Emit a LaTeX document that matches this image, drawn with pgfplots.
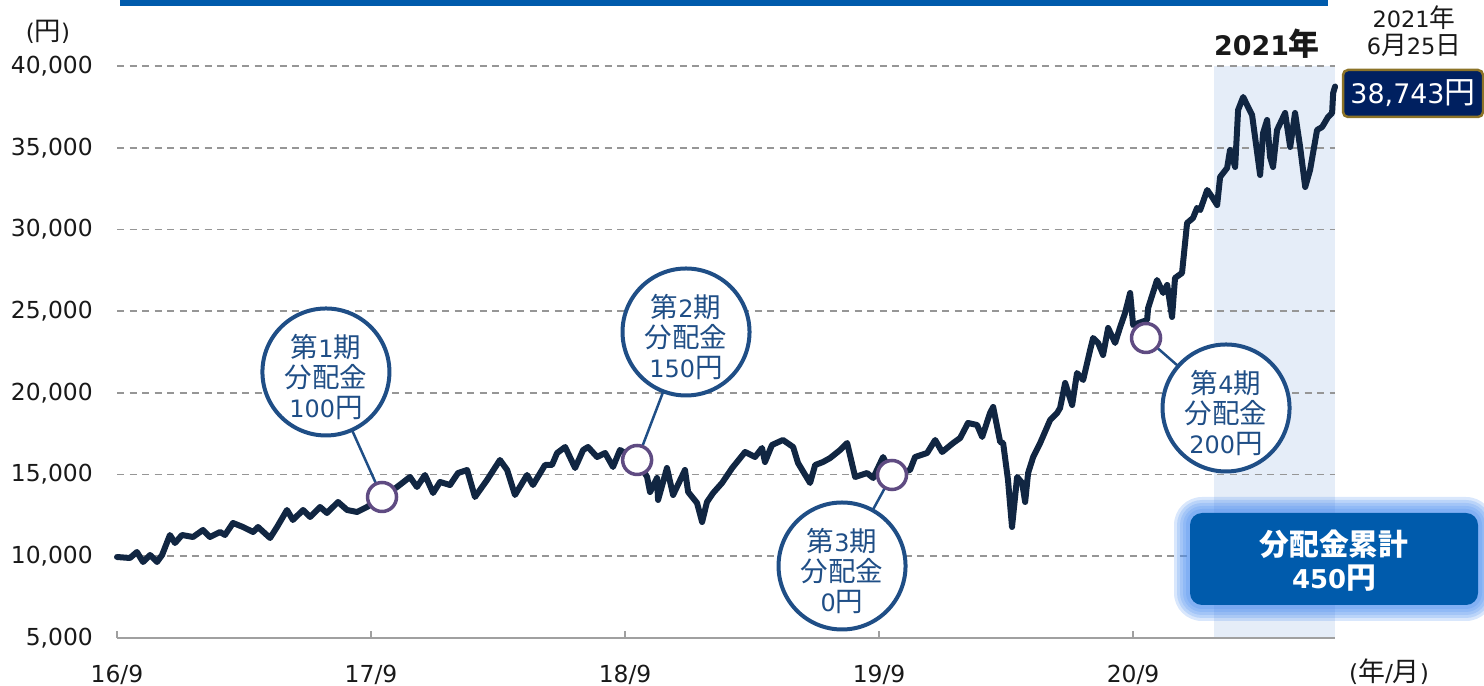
\documentclass[border=0pt]{standalone}
\usepackage{fontspec}
\setmainfont{DejaVu Sans}
\newfontfamily\cjk[Scale=1.15]{Noto Sans CJK JP}
\usepackage{pgfplots}
\pgfplotsset{compat=1.18}
\newcommand\J[1]{{\cjk #1}}
\definecolor{linec}{RGB}{17,38,66}
\definecolor{callc}{RGB}{31,78,134}
\definecolor{markc}{RGB}{95,75,130}
\definecolor{shadec}{RGB}{229,237,248}
\definecolor{gridc}{RGB}{150,150,150}
\definecolor{axisc}{RGB}{160,160,160}
\definecolor{topbar}{RGB}{0,91,172}
\definecolor{boxa}{RGB}{0,32,96}
\definecolor{boxab}{RGB}{140,115,40}
\definecolor{boxb}{RGB}{0,91,172}
\definecolor{glowc}{RGB}{80,145,240}
\definecolor{txt}{RGB}{25,25,25}
\begin{document}
\begin{tikzpicture}[x=1bp,y=1bp]
\fill[topbar] (3,632.3) rectangle (1211,640);
\begin{axis}[
 set layers,
 at={(0,0)}, anchor=south west,
 scale only axis, width=1218bp, height=572bp,
 xmin=0, xmax=57.54, ymin=5000, ymax=40000,
 clip=false,
 axis x line=bottom, axis y line=left,
 x axis line style={draw=axisc, line width=1.6bp, -},
 y axis line style={draw=none},
 xtick={0,12,24,36,48}, xticklabels={16/9,17/9,18/9,19/9,20/9},
 ytick={10000,15000,...,40000},
 extra y ticks={5000}, extra y tick style={grid=none},
 tick align=inside,
 major tick length=7bp,
 xtick style={draw=axisc, line width=1.6bp},
 ytick style={draw=none},
 ymajorgrids, grid style={gridc, line width=1.8bp, dash pattern=on 7bp off 5.5bp},
 scaled y ticks=false,
 /pgf/number format/assume math mode=true,
 /pgf/number format/1000 sep={,},
 tick label style={font=\fontsize{23.5}{27}\selectfont, text=txt},
 yticklabel style={inner sep=0pt, anchor=east, xshift=-24bp},
 xticklabel style={inner sep=0pt, anchor=north, yshift=-26.5bp},
]
\begin{pgfonlayer}{axis background}
\fill[shadec] (axis cs:51.8,5000) rectangle (axis cs:57.54,40000);
\end{pgfonlayer}
\addplot[linec, line width=6bp, line join=round, line cap=round] table[row sep=\\] {
x y\\
0 9956\\ 0.61 9895\\ 0.94 10262\\ 1.23 9650\\ 1.56 10079\\ 1.89 9650\\ 2.13 10079\\ 2.50 11303\\
2.74 10813\\ 3.07 11303\\ 3.59 11180\\ 4.06 11609\\ 4.39 11180\\ 4.87 11486\\ 5.10 11303\\ 5.48 12037\\
5.95 11792\\ 6.43 11486\\ 6.66 11792\\ 7.23 11119\\ 7.56 11792\\ 8.03 12832\\ 8.31 12220\\ 8.79 12832\\
9.12 12404\\ 9.59 13016\\ 9.92 12649\\ 10.44 13322\\ 10.87 12832\\ 11.34 12710\\ 11.81 13016\\ 12.52 13628\\
13.23 14240\\ 13.84 14852\\ 14.17 14240\\ 14.55 14974\\ 14.93 13873\\ 15.26 14546\\ 15.73 14362\\ 16.11 15096\\
16.54 15280\\ 16.91 13628\\ 17.48 14668\\ 18.09 15892\\ 18.43 15280\\ 18.80 13750\\ 19.37 14974\\ 19.65 14362\\
20.22 15586\\ 20.55 15586\\ 20.79 16320\\ 21.17 16687\\ 21.64 15402\\ 22.02 16504\\ 22.25 16687\\ 22.68 16075\\
23.06 16320\\ 23.43 15463\\ 23.76 16504\\ 24.57 15892\\ 25.04 14852\\ 25.18 13934\\ 25.51 14790\\ 25.56 13444\\
25.98 15402\\ 26.27 13750\\ 26.83 15280\\ 26.98 13934\\ 27.40 13261\\ 27.64 12098\\ 27.87 13322\\ 28.16 13873\\
28.58 14484\\ 29.06 15402\\ 29.67 16381\\ 30.14 16075\\ 30.47 16626\\ 30.61 15769\\ 30.94 16810\\ 31.46 17116\\
31.94 16687\\ 32.17 15708\\ 32.74 14484\\ 32.98 15586\\ 33.35 15769\\ 33.69 16014\\ 34.16 16504\\ 34.49 16932\\
34.87 14852\\ 35.43 15096\\ 35.72 14790\\ 36.19 16075\\ 36.61 14974\\ 37.46 15280\\ 37.70 16075\\ 38.27 16320\\
38.65 17116\\ 38.98 16381\\ 39.50 16932\\ 39.83 17238\\ 40.20 18156\\ 40.63 18033\\ 40.87 17299\\ 41.24 18768\\
41.39 19135\\ 41.72 16993\\ 41.86 16932\\ 42.09 14668\\ 42.28 11792\\ 42.52 14852\\ 42.76 14484\\ 42.90 13322\\
43.04 15096\\ 43.28 16075\\ 43.61 16932\\ 44.08 18339\\ 44.41 18768\\ 44.55 19074\\ 44.79 20603\\ 45.12 19257\\
45.35 21215\\ 45.64 20787\\ 45.97 22623\\ 46.11 23357\\ 46.35 23051\\ 46.58 22317\\ 46.82 23969\\ 47.15 23051\\
47.39 24030\\ 47.62 24887\\ 47.86 26111\\ 48.00 24152\\ 48.66 24458\\ 48.71 25193\\ 49.13 26906\\ 49.42 26111\\
49.61 26600\\ 49.84 24642\\ 49.98 27028\\ 50.31 27334\\ 50.55 30394\\ 50.83 30700\\ 51.02 31312\\ 51.17 31189\\
51.50 32413\\ 51.73 31985\\ 51.97 31495\\ 52.11 33209\\ 52.44 33759\\ 52.58 34861\\ 52.82 33820\\ 52.96 37308\\
53.20 38104\\ 53.43 37492\\ 53.62 37002\\ 53.76 35656\\ 54.00 33331\\ 54.14 35901\\ 54.33 36696\\ 54.47 34432\\
54.61 33820\\ 54.80 36085\\ 55.18 37125\\ 55.42 35044\\ 55.65 37125\\ 55.89 35044\\ 56.13 32597\\ 56.36 33637\\
56.69 36085\\ 56.93 36268\\ 57.21 36880\\ 57.40 37125\\ 57.45 38349\\ 57.54 38743\\
};
% leader lines
\draw[callc, line width=2.5bp] (axis cs:12.52,13628) -- (axis cs:9.87,21277);
\draw[callc, line width=2.5bp] (axis cs:24.57,15892) -- (axis cs:26.88,23724);
\draw[callc, line width=2.5bp] (axis cs:36.61,14974) -- (axis cs:34.25,9406);
\draw[callc, line width=2.5bp] (axis cs:48.61,23357) -- (axis cs:52.39,19074);
\addplot[only marks, mark=*, mark size=14.5bp, mark options={draw=markc, fill=white, line width=3.5bp}]
 coordinates {(12.52,13628) (24.57,15892) (36.61,14974) (48.61,23357)};
% callouts
\node[circle, draw=callc, fill=white, line width=4bp, minimum size=127bp, inner sep=0pt] at (axis cs:9.87,21277) {};
\node[align=center, text=callc, inner sep=0pt, font=\fontsize{24}{30.5}\selectfont, yshift=-5bp] at (axis cs:9.87,21277) {\J{第}1\J{期}\\\J{分配金}\\100\J{円}};
\node[circle, draw=callc, fill=white, line width=4bp, minimum size=127bp, inner sep=0pt] at (axis cs:26.88,23724) {};
\node[align=center, text=callc, inner sep=0pt, font=\fontsize{24}{30.5}\selectfont, yshift=-5bp] at (axis cs:26.88,23724) {\J{第}2\J{期}\\\J{分配金}\\150\J{円}};
\node[circle, draw=callc, fill=white, line width=4bp, minimum size=127bp, inner sep=0pt] at (axis cs:34.25,9406) {};
\node[align=center, text=callc, inner sep=0pt, font=\fontsize{24}{30.5}\selectfont, yshift=-5bp] at (axis cs:34.25,9406) {\J{第}3\J{期}\\\J{分配金}\\0\J{円}};
\node[circle, draw=callc, fill=white, line width=4bp, minimum size=127bp, inner sep=0pt] at (axis cs:52.39,19074) {};
\node[align=center, text=callc, inner sep=0pt, font=\fontsize{24}{30.5}\selectfont, yshift=-5bp] at (axis cs:52.39,19074) {\J{第}4\J{期}\\\J{分配金}\\200\J{円}};
\end{axis}
% glow box
\foreach \i/\r in {16/28,13/25,10/22,7/19,4/16} {
 \fill[glowc, opacity=0.22, rounded corners=\r bp] (1073-\i,33-\i) rectangle (1361+\i,125+\i);
}
\fill[boxb, rounded corners=12bp] (1073,33) rectangle (1361,125);
\node[text=white, align=center, inner sep=0pt, font=\fontsize{26}{33}\selectfont\bfseries] at (1217,77) {\J{分配金累計}\\450\J{円}};
% value box
\node[fill=boxa, draw=boxab, line width=2.5bp, rounded corners=5bp, minimum width=140bp, minimum height=47bp, inner sep=0pt, text=white, font=\fontsize{27}{30}\selectfont] at (1296,544.5) {38,743\J{円}};
\node[text=txt, inner sep=0pt, font=\fontsize{27}{30}\selectfont\bfseries] at (1150,594) {2021\J{年}};
\node[text=txt, align=center, inner sep=0pt, font=\fontsize{22.5}{27}\selectfont] at (1297,607) {2021\J{年}\\6\J{月}25\J{日}};
\node[text=txt, inner sep=0pt, font=\fontsize{23}{26}\selectfont] at (-69,606) {(\J{円})};
\node[text=txt, inner sep=0pt, font=\fontsize{23.5}{27}\selectfont] at (1272,-34) {(\J{年}/\J{月})};
\pgfresetboundingbox
\useasboundingbox (-117,-48) rectangle (1367,638);
\end{tikzpicture}
\end{document}
